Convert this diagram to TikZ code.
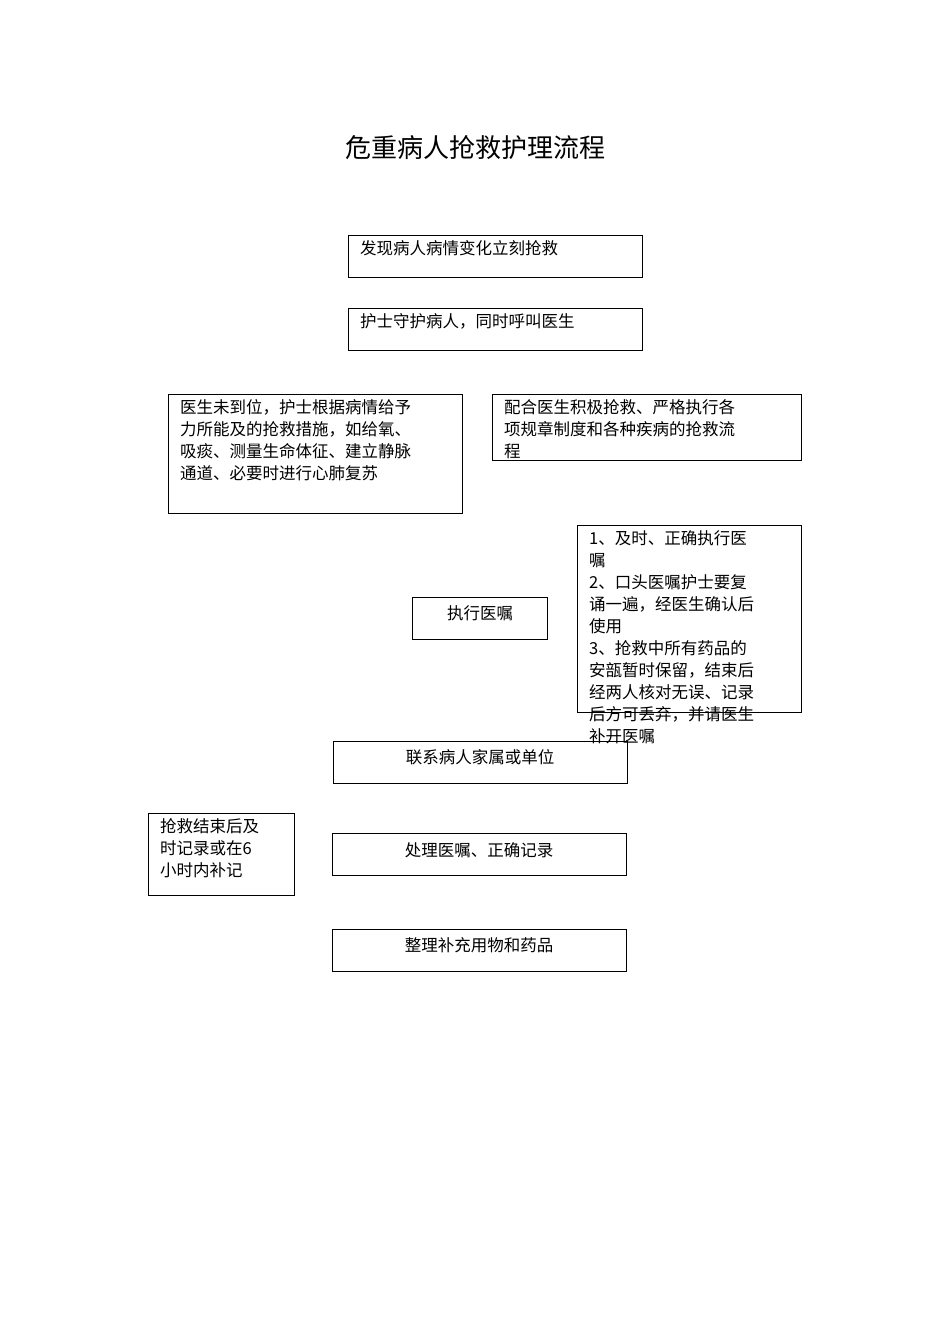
\documentclass[tikz,border=0pt]{standalone}
\usepackage{fontspec}
\setmainfont{Noto Sans CJK SC}
\begin{document}
\begin{tikzpicture}[x=1pt,y=-1pt,
  bx/.style={draw,line width=0.8pt},
  tx/.style={anchor=north west,inner sep=0pt,align=left,font=\fontsize{16.5}{22}\selectfont},
  ct/.style={anchor=center,inner sep=0pt,font=\fontsize{16.5}{22}\selectfont}]
\useasboundingbox (0,0) rectangle (950,1344);
\node[font=\fontsize{26}{30}\selectfont] (title) at (475,148) {危重病人抢救护理流程};
\draw[bx] (348,235) rectangle (642,277);
\node[tx] (t1) at (360,240) {发现病人病情变化立刻抢救};
\draw[bx] (348,308) rectangle (642,350);
\node[tx] (t2) at (360,313) {护士守护病人，同时呼叫医生};
\draw[bx] (168,394) rectangle (462,513);
\node[tx] (t3) at (180,399) {医生未到位，护士根据病情给予\\力所能及的抢救措施，如给氧、\\吸痰、测量生命体征、建立静脉\\通道、必要时进行心肺复苏};
\draw[bx] (492,394) rectangle (801,460);
\node[tx] (t4) at (504,399) {配合医生积极抢救、严格执行各\\项规章制度和各种疾病的抢救流\\程};
\draw[bx] (577,525) rectangle (801,712);
\node[tx] (t5) at (589,530) {1、及时、正确执行医\\嘱\\2、口头医嘱护士要复\\诵一遍，经医生确认后\\使用\\3、抢救中所有药品的\\安瓿暂时保留，结束后\\经两人核对无误、记录\\后方可丢弃，并请医生\\补开医嘱};
\draw[bx] (412,597) rectangle (547,639);
\node[ct] (t6) at (480,613) {执行医嘱};
\draw[bx] (333,741) rectangle (627,783);
\node[ct] (t7) at (480,757) {联系病人家属或单位};
\draw[bx] (148,813) rectangle (294,895);
\node[tx] (t8) at (160,818) {抢救结束后及\\时记录或在6\\小时内补记};
\draw[bx] (332,833) rectangle (626,875);
\node[ct] (t9) at (479,850) {处理医嘱、正确记录};
\draw[bx] (332,929) rectangle (626,971);
\node[ct] (t10) at (479,945) {整理补充用物和药品};
\end{tikzpicture}
\end{document}
